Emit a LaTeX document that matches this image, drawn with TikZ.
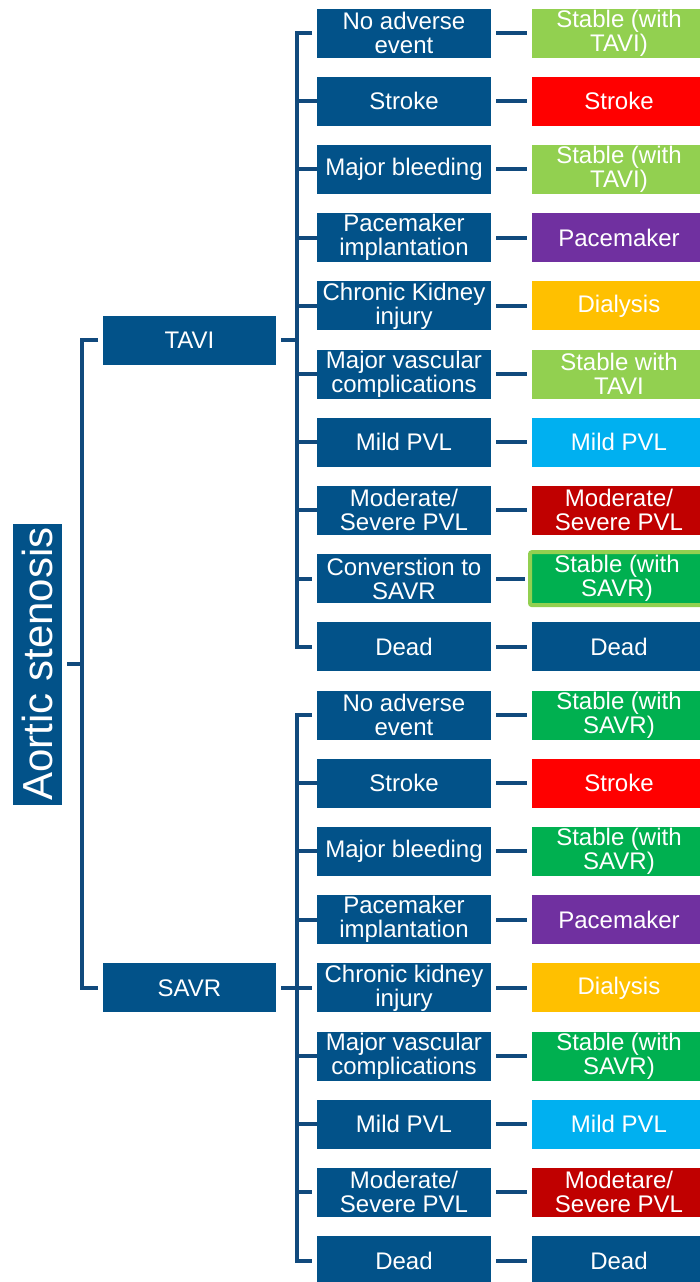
\documentclass[tikz,border=0pt]{standalone}
\usepackage{fontspec}
\setmainfont{Liberation Sans}
\usetikzlibrary{positioning}

\definecolor{boxblue}{RGB}{2,82,137}
\definecolor{lineblue}{RGB}{17,74,125}
\definecolor{lightgreen}{RGB}{146,208,80}
\definecolor{stroke}{RGB}{255,0,0}
\definecolor{pacemaker}{RGB}{112,48,160}
\definecolor{dialysis}{RGB}{255,192,0}
\definecolor{mildpvl}{RGB}{0,176,240}
\definecolor{severepvl}{RGB}{192,0,0}
\definecolor{savrgreen}{RGB}{0,176,80}

\begin{document}
\begin{tikzpicture}[
    x = 1pt,
    y = -1pt,
    node distance = 19.2pt and 41pt,
    every node/.style = {text = white, align = center, inner sep = 0pt, outer sep = 0pt},
    root/.style = {rectangle, fill = boxblue, minimum width = 281pt, minimum height = 49pt, font = \fontsize{42}{42}\selectfont},
    arm/.style = {rectangle, fill = boxblue, minimum width = 173pt, minimum height = 49pt, font = \fontsize{24}{24}\selectfont},
    event/.style = {rectangle, fill = boxblue, minimum width = 174pt, minimum height = 49pt, font = \fontsize{24}{24}\selectfont},
    outcome/.style = {event, fill = #1},
    bus/.style = {draw = lineblue, line width = 4pt},
    link/.style = {bus, shorten < = 5pt, shorten > = 5pt},
    tick/.style = {bus, shorten > = 5pt}
]
\useasboundingbox (0,0) rectangle (700,1282);

% Root and arms
\node[root, rotate = 90] (as)   at (37.5,664) {Aortic stenosis};
\node[arm]               (tavi) at (189.5,340) {TAVI};

% TAVI events
\node[event]                  (t1)  at (404,33) {No adverse\\event};
\node[event, below = of t1]   (t2)  {Stroke};
\node[event, below = of t2]   (t3)  {Major bleeding};
\node[event, below = of t3]   (t4)  {Pacemaker\\implantation};
\node[event, below = of t4]   (t5)  {Chronic Kidney\\injury};
\node[event, below = of t5]   (t6)  {Major vascular\\complications};
\node[event, below = of t6]   (t7)  {Mild PVL};
\node[event, below = of t7]   (t8)  {Moderate/\\Severe PVL};
\node[event, below = of t8]   (t9)  {Converstion to\\SAVR};
\node[event, below = of t9]   (t10) {Dead};

% SAVR events
\node[event, below = of t10]  (s1)  {No adverse\\event};
\node[event, below = of s1]   (s2)  {Stroke};
\node[event, below = of s2]   (s3)  {Major bleeding};
\node[event, below = of s3]   (s4)  {Pacemaker\\implantation};
\node[event, below = of s4]   (s5)  {Chronic kidney\\injury};
\node[event, below = of s5]   (s6)  {Major vascular\\complications};
\node[event, below = of s6]   (s7)  {Mild PVL};
\node[event, below = of s7]   (s8)  {Moderate/\\Severe PVL};
\node[event, below = of s8]   (s9)  {Dead};

\node[arm] (savr) at (tavi |- s5) {SAVR};

% TAVI outcomes
\node[outcome = lightgreen, right = of t1]  (t1r)  {Stable (with\\TAVI)};
\node[outcome = stroke,     right = of t2]  (t2r)  {Stroke};
\node[outcome = lightgreen, right = of t3]  (t3r)  {Stable (with\\TAVI)};
\node[outcome = pacemaker,  right = of t4]  (t4r)  {Pacemaker};
\node[outcome = dialysis,   right = of t5]  (t5r)  {Dialysis};
\node[outcome = lightgreen, right = of t6]  (t6r)  {Stable with\\TAVI};
\node[outcome = mildpvl,    right = of t7]  (t7r)  {Mild PVL};
\node[outcome = severepvl,  right = of t8]  (t8r)  {Moderate/\\Severe PVL};
\node[outcome = savrgreen, draw = lightgreen, line width = 4pt, rounded corners = 2pt,
      minimum height = 53pt, right = 39pt of t9] (t9r) {Stable (with\\SAVR)};
\node[outcome = boxblue,    right = of t10] (t10r) {Dead};

% SAVR outcomes
\node[outcome = savrgreen,  right = of s1]  (s1r)  {Stable (with\\SAVR)};
\node[outcome = stroke,     right = of s2]  (s2r)  {Stroke};
\node[outcome = savrgreen,  right = of s3]  (s3r)  {Stable (with\\SAVR)};
\node[outcome = pacemaker,  right = of s4]  (s4r)  {Pacemaker};
\node[outcome = dialysis,   right = of s5]  (s5r)  {Dialysis};
\node[outcome = savrgreen,  right = of s6]  (s6r)  {Stable (with\\SAVR)};
\node[outcome = mildpvl,    right = of s7]  (s7r)  {Mild PVL};
\node[outcome = severepvl,  right = of s8]  (s8r)  {Modetare/\\Severe PVL};
\node[outcome = boxblue,    right = of s9]  (s9r)  {Dead};

% Buses
\coordinate (rbus) at (82,0);
\coordinate (tbus) at (297,0);

\draw[tick] (rbus |- as) -- (as);
\draw[link] (tavi) -| (rbus |- savr) -- (savr);

\draw[tick] (tbus |- tavi) -- (tavi);
\draw[link] (t1) -| (tbus |- t10) -- (t10);
\draw[tick] (tbus |- t2) -- (t2)
            (tbus |- t3) -- (t3)
            (tbus |- t4) -- (t4)
            (tbus |- t5) -- (t5)
            (tbus |- t6) -- (t6)
            (tbus |- t7) -- (t7)
            (tbus |- t8) -- (t8)
            (tbus |- t9) -- (t9);

\draw[tick] (tbus |- savr) -- (savr);
\draw[link] (s1) -| (tbus |- s9) -- (s9);
\draw[tick] (tbus |- s2) -- (s2)
            (tbus |- s3) -- (s3)
            (tbus |- s4) -- (s4)
            (tbus |- s6) -- (s6)
            (tbus |- s7) -- (s7)
            (tbus |- s8) -- (s8);
\draw[bus]  (tbus |- s5) -- ([xshift=-5pt]s5.west);

% Events to outcomes
\draw[link] (t1) -- (t1r);
\draw[link] (t2) -- (t2r);
\draw[link] (t3) -- (t3r);
\draw[link] (t4) -- (t4r);
\draw[link] (t5) -- (t5r);
\draw[link] (t6) -- (t6r);
\draw[link] (t7) -- (t7r);
\draw[link] (t8) -- (t8r);
\draw[link] (t9) -- (t9r);
\draw[link] (t10) -- (t10r);

\draw[link] (s1) -- (s1r);
\draw[link] (s2) -- (s2r);
\draw[link] (s3) -- (s3r);
\draw[link] (s4) -- (s4r);
\draw[link] (s5) -- (s5r);
\draw[link] (s6) -- (s6r);
\draw[link] (s7) -- (s7r);
\draw[link] (s8) -- (s8r);
\draw[link] (s9) -- (s9r);

\end{tikzpicture}
\end{document}
